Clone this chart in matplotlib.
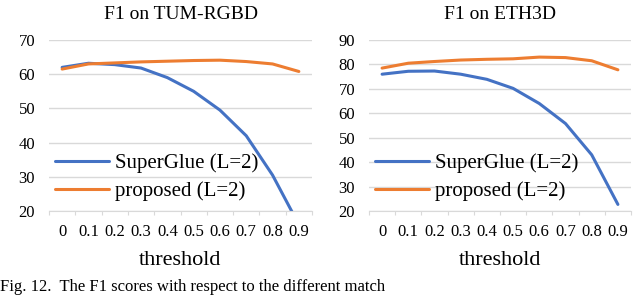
import matplotlib
matplotlib.use("Agg")
import matplotlib.pyplot as plt
import numpy as np

thresholds = ["0", "0.1", "0.2", "0.3", "0.4", "0.5", "0.6", "0.7", "0.8", "0.9"]

tum_superglue = [62.0, 63.2, 62.8, 61.8, 59.0, 55.0, 49.5, 42.0, 30.5, 16.0]
tum_proposed = [61.5, 63.0, 63.3, 63.6, 63.8, 64.0, 64.1, 63.7, 63.0, 60.8]

eth_superglue = [76.0, 77.2, 77.3, 76.0, 73.9, 70.2, 64.0, 55.8, 43.0, 22.7]
eth_proposed = [78.5, 80.5, 81.2, 81.8, 82.1, 82.3, 83.0, 82.8, 81.5, 77.8]

titles = ["F1 on TUM-RGBD", "F1 on ETH3D"]
yticks_list = [[20, 30, 40, 50, 60, 70], [20, 30, 40, 50, 60, 70, 80, 90]]
labels = ["SuperGlue (L=2)", "proposed (L=2)"]

plt.rcParams['font.family'] = ['Liberation Serif', 'DejaVu Serif']

fig = plt.figure(figsize=(6.4, 2.96), dpi=100)
positions = [[49/640, 1-211/296, 263/640, 171/296], [369/640, 1-211/296, 262/640, 171/296]]
data = [(tum_superglue, tum_proposed), (eth_superglue, eth_proposed)]

blue = "#4472C4"
orange = "#ED7D31"
x = np.arange(len(thresholds))

for pos, (sg, pr), title, yt in zip(positions, data, titles, yticks_list):
    ax = fig.add_axes(pos)
    ax.plot(x, sg, color=blue, lw=2.2, label=labels[0], solid_capstyle='round')
    ax.plot(x, pr, color=orange, lw=2.2, label=labels[1], solid_capstyle='round')
    ax.set_xlim(-0.5, 9.5)
    ax.set_ylim(yt[0], yt[-1])
    ax.set_yticks(yt)
    ax.set_xticks(x)
    ax.set_xticklabels(thresholds)
    ax.tick_params(axis='y', length=0, labelsize=12, pad=10)
    ax.tick_params(axis='x', length=0, labelsize=12, pad=9)
    ax.set_xticks(np.arange(-0.5, 10, 1), minor=True)
    ax.tick_params(axis='x', which='minor', length=3, color="#D9D9D9", width=0.8)
    ax.grid(axis='y', color="#D9D9D9", lw=1)
    ax.set_axisbelow(True)
    for s in ['top', 'right', 'left']:
        ax.spines[s].set_visible(False)
    ax.spines['bottom'].set_color("#D9D9D9")
    ax.set_title(title, fontsize=14, pad=15)
    ax.set_xlabel("threshold", fontsize=16, labelpad=8)
    ax.legend(loc='lower left', bbox_to_anchor=(0.0, 0.02), frameon=False, fontsize=15,
              handlelength=2.6, handletextpad=0.25, labelspacing=0.4, borderaxespad=0.2,
              borderpad=0.1)

fig.text(0.0, 0.004, "Fig. 12.  The F1 scores with respect to the different match", fontsize=12,
         ha='left', va='bottom')

fig.savefig("out.png", dpi=100)
